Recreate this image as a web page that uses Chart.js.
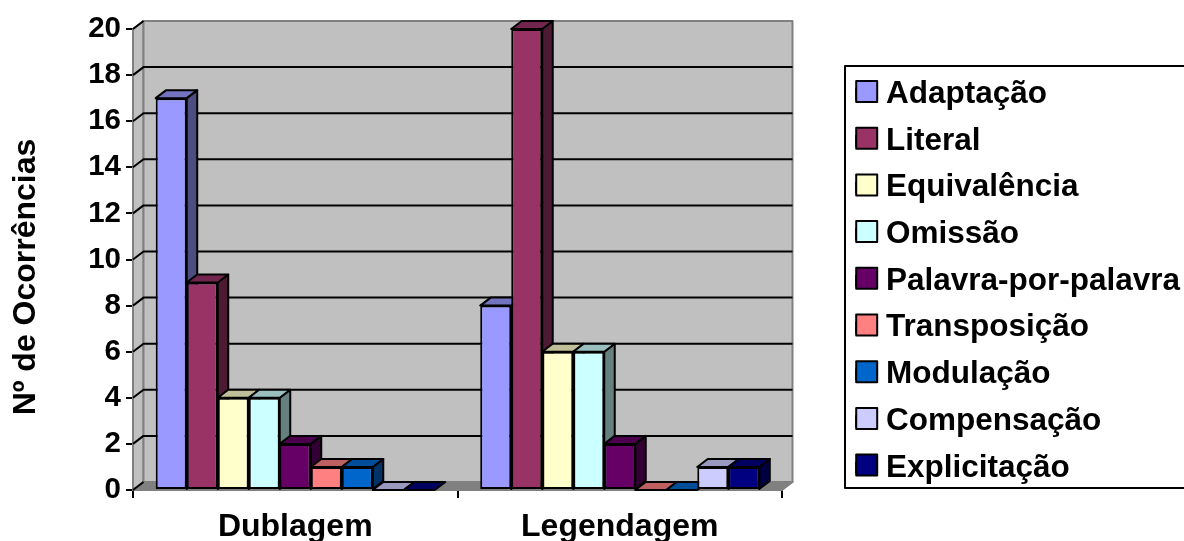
<!DOCTYPE html>
<html>
<head>
<meta charset="utf-8">
<title>Nº de Ocorrências</title>
<script src="https://cdn.jsdelivr.net/npm/chart.js@4"></script>
<style>
html, body { margin: 0; padding: 0; background: #fff; overflow: hidden; }
canvas { display: block; }
</style>
</head>
<body>
<canvas id="chart" width="1184" height="541"></canvas>
<script>
// Valeurs
var categories = ['Dublagem', 'Legendagem'];
var seriesNames = ['Adaptação', 'Literal', 'Equivalência', 'Omissão', 'Palavra-por-palavra', 'Transposição', 'Modulação', 'Compensação', 'Explicitação'];
var seriesColors = ['#9999FF', '#993366', '#FFFFCC', '#CCFFFF', '#660066', '#FF8080', '#0066CC', '#CCCCFF', '#000080'];
var dublagem = [17, 9, 4, 4, 2, 1, 1, 0, 0];
var legendagem = [8, 20, 6, 6, 2, 0, 0, 1, 1];
var yTitle = 'Nº de Ocorrências';

var font = 'Liberation Sans';
var dx = 10.5, dy = 8;

function shade(hex, k) {
    var n = parseInt(hex.slice(1), 16);
    return 'rgb(' + Math.round((n >> 16) * k) + ',' + Math.round(((n >> 8) & 255) * k) + ',' + Math.round((n & 255) * k) + ')';
}

function face(ctx, pts, fill, stroke) {
    ctx.beginPath();
    ctx.moveTo(pts[0][0], pts[0][1]);
    for (var i = 1; i < pts.length; i++) ctx.lineTo(pts[i][0], pts[i][1]);
    ctx.closePath();
    ctx.fillStyle = fill;
    ctx.fill();
    ctx.strokeStyle = stroke;
    ctx.lineWidth = 2;
    ctx.lineJoin = 'round';
    ctx.stroke();
}

// Murs, sol et barres en pseudo 3D
var depth3d = {
    id: 'depth3d',
    beforeDatasetsDraw: function (chart) {
        var ctx = chart.ctx, a = chart.chartArea, y = chart.scales.y;
        face(ctx, [[a.left, a.top], [a.left + dx, a.top - dy], [a.left + dx, a.bottom - dy], [a.left, a.bottom]], '#C0C0C0', '#808080');
        face(ctx, [[a.left, a.bottom], [a.left + dx, a.bottom - dy], [a.right + dx, a.bottom - dy], [a.right, a.bottom]], '#808080', '#808080');
        face(ctx, [[a.left + dx, a.top - dy], [a.right + dx, a.top - dy], [a.right + dx, a.bottom - dy], [a.left + dx, a.bottom - dy]], '#C0C0C0', '#808080');

        ctx.strokeStyle = '#000';
        ctx.lineWidth = 2;
        y.ticks.forEach(function (t) {
            var py = y.getPixelForValue(t.value);
            ctx.beginPath();
            ctx.moveTo(a.left, py);
            ctx.lineTo(a.left + dx, py - dy);
            if (t.value > 0 && t.value < 20) ctx.lineTo(a.right + dx, py - dy);
            ctx.stroke();
        });

        chart.data.datasets.forEach(function (ds, i) {
            chart.getDatasetMeta(i).data.forEach(function (el) {
                var p = el.getProps(['x', 'y', 'base', 'width'], true);
                var l = p.x - p.width / 2, r = p.x + p.width / 2;
                if (p.base - p.y > 0) {
                    face(ctx, [[r, p.y], [r + dx, p.y - dy], [r + dx, p.base - dy], [r, p.base]], shade(ds.backgroundColor, 0.5), '#000');
                }
                face(ctx, [[l, p.y], [l + dx, p.y - dy], [r + dx, p.y - dy], [r, p.y]], shade(ds.backgroundColor, 0.75), '#000');
                el.draw(ctx);
            });
        });
        return false;
    },
    afterLayout: function (chart) {
        var lg = chart.legend;
        lg.left = 841;
        lg.top = 63.3;
        lg.right = 1200;
        lg.bottom = 541;
    },
    afterDraw: function (chart) {
        var ctx = chart.ctx, lg = chart.legend;
        ctx.save();
        ctx.strokeStyle = '#000';
        ctx.lineWidth = 2;
        ctx.strokeRect(845, 66, 345, 422);
        lg.legendHitBoxes.forEach(function (hit, i) {
            var top = hit.top + (hit.height - 21) / 2 - 2.75;
            ctx.fillStyle = seriesColors[i];
            ctx.fillRect(hit.left, top, 21, 21);
            ctx.strokeRect(hit.left, top, 21, 21);
        });
        ctx.fillStyle = '#000';
        ctx.font = 'bold 32px "' + font + '"';
        ctx.textAlign = 'center';
        ctx.textBaseline = 'middle';
        ctx.translate(26, 277);
        ctx.rotate(-Math.PI / 2);
        ctx.fillText(yTitle, 0, 0);
        ctx.restore();
    }
};

var datasets = seriesNames.map(function (name, i) {
    return {
        label: name,
        data: [dublagem[i], legendagem[i]],
        backgroundColor: seriesColors[i],
        borderColor: '#000',
        borderWidth: 2,
        borderSkipped: false
    };
});

var ctx = document.getElementById('chart').getContext('2d');
var myChart = new Chart(ctx, {
    type: 'bar',
    data: { labels: categories, datasets: datasets },
    plugins: [depth3d],
    options: {
        responsive: false,
        animation: false,
        devicePixelRatio: 1,
        categoryPercentage: 0.86,
        barPercentage: 1,
        layout: { padding: { top: 29, right: 141.33, left: 0, bottom: 0 } },
        plugins: {
            tooltip: { enabled: false },
            legend: {
                position: 'right',
                align: 'start',
                labels: {
                    color: '#000',
                    font: { family: font, size: 31.5, weight: 'bold', lineHeight: 1 },
                    boxWidth: 14,
                    boxHeight: 10,
                    padding: 15.2
                }
            }
        },
        scales: {
            x: {
                afterFit: function (s) { s.height = 51; },
                grid: { drawOnChartArea: false, color: '#000', lineWidth: 2, tickLength: 8 },
                border: { color: '#000', width: 2 },
                ticks: { color: '#000', maxRotation: 0, padding: 10, font: { family: font, size: 32, weight: 'bold' } }
            },
            y: {
                min: 0,
                max: 20,
                afterFit: function (s) { s.width = 133; },
                grid: { drawOnChartArea: false, color: '#000', lineWidth: 2, tickLength: 7 },
                border: { color: '#000', width: 2 },
                ticks: { color: '#000', stepSize: 2, padding: 5, font: { family: font, size: 29.5, weight: 'bold' } }
            }
        }
    }
});
</script>
</body>
</html>
